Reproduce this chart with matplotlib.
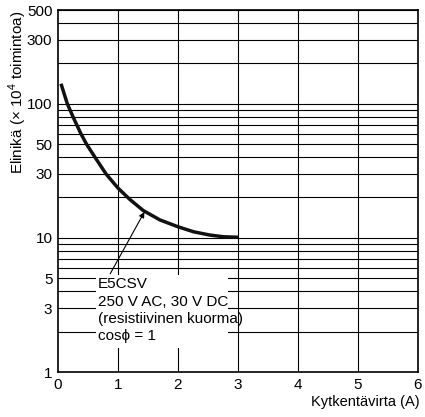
import matplotlib
matplotlib.use("Agg")
import matplotlib.pyplot as plt
from matplotlib.patches import Rectangle

plt.rcParams['font.family'] = ['Liberation Sans', 'DejaVu Sans']
plt.rcParams['mathtext.fontset'] = 'custom'
plt.rcParams['mathtext.rm'] = 'Liberation Sans'

# Data
current_a = [0.05, 0.155, 0.2, 0.25, 0.31, 0.38, 0.475, 0.615, 0.80, 1.0, 1.2,
             1.42, 1.7, 2.0, 2.26, 2.53, 2.75, 3.0]
life = [141, 100, 90, 80, 70, 60, 50, 40, 30, 23.5, 19.3,
        16.0, 13.6, 12.1, 11.1, 10.5, 10.2, 10.1]

ytick_vals = [1, 3, 5, 10, 30, 50, 100, 300, 500]
xtick_vals = [0, 1, 2, 3, 4, 5, 6]
ygrid_vals = list(range(2, 10)) + list(range(10, 100, 10)) + list(range(100, 501, 100))

note_text = "E5CSV\n250 V AC, 30 V DC\n(resistiivinen kuorma)\ncos\u03d5 = 1"

fig = plt.figure(figsize=(4.25, 4.17), dpi=100)
ax = fig.add_axes([58/425, 1-372/417, 360/425, 362/417])
ax.set_yscale('log')
ax.set_xlim(0, 6)
ax.set_ylim(1, 500)

for v in ygrid_vals:
    ax.axhline(v, color='black', lw=0.8, zorder=1)
for v in xtick_vals[1:-1]:
    ax.axvline(v, color='black', lw=0.8, zorder=1)

ax.add_patch(Rectangle((0.63, 1.51), 2.2, 5.3 - 1.51, facecolor='white',
                       edgecolor='none', zorder=2))

ax.plot(current_a, life, color='#111111', lw=2.5, zorder=4,
        solid_capstyle='butt', solid_joinstyle='round')

ax.text(0.67, 5.1, note_text, fontsize=11, va='top', ha='left',
        linespacing=1.31, zorder=5)
ax.annotate('', xy=(1.44, 15.6), xytext=(0.87, 5.4),
            arrowprops=dict(arrowstyle='-|>', lw=0.8, color='black',
                            mutation_scale=8, shrinkA=0, shrinkB=0), zorder=5)

ax.set_yticks(ytick_vals)
ax.set_yticklabels([str(v) for v in ytick_vals])
ax.yaxis.set_minor_locator(matplotlib.ticker.NullLocator())
ax.set_xticks(xtick_vals)
ax.tick_params(length=0, labelsize=11, pad=4)
for s in ax.spines.values():
    s.set_linewidth(1.2)
    s.set_zorder(6)

fig.text(18/425, 1-92/417, 'Elinik\u00e4 (\u00d7 10$^4$ toimintoa)', rotation=90,
         ha='center', va='center', fontsize=11)
fig.text(420/425, 1-402/417, 'Kytkent\u00e4virta (A)', ha='right', va='center',
         fontsize=10.5)

fig.savefig('out.png', dpi=100)
